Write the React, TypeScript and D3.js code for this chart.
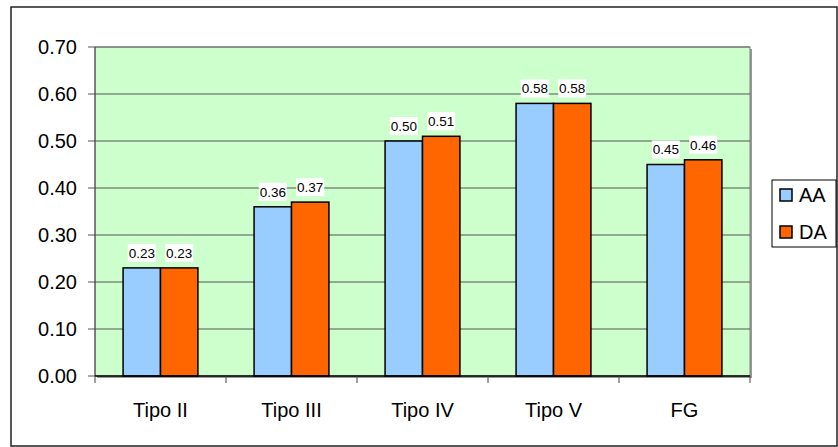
import React from "react";
import * as d3 from "d3";

const categories = ["Tipo II", "Tipo III", "Tipo IV", "Tipo V", "FG"];
const seriesNames = ["AA", "DA"];
const aaValues = [0.23, 0.36, 0.5, 0.58, 0.45];
const daValues = [0.23, 0.37, 0.51, 0.58, 0.46];
const yTicks = [0, 0.1, 0.2, 0.3, 0.4, 0.5, 0.6, 0.7];
const colors = ["#99CCFF", "#FF6600"];

const W = 838;
const H = 447;
const plot = { left: 95, right: 750, top: 47, bottom: 376 };
const font = "'Liberation Sans', Arial, sans-serif";

export default function App() {
  const x = d3.scaleBand<string>().domain(categories).range([plot.left, plot.right]).padding(0);
  const y = d3.scaleLinear().domain([0, 0.7]).range([plot.bottom, plot.top]);
  const bw = x.bandwidth() / 3.5;
  const series = [aaValues, daValues];
  const fmt = d3.format(".2f");

  return (
    <svg width={W} height={H} style={{ position: "absolute", left: 0, top: 0 }} fontFamily={font}>
      <rect x={0} y={0} width={W} height={H} fill="#fff" />
      <rect x={11} y={7} width={826} height={439} fill="#fff" stroke="#222" strokeWidth={1.5} />
      {/* plot area */}
      <rect x={plot.left + 2} y={plot.top + 2} width={plot.right - plot.left} height={plot.bottom - plot.top} fill="#999" />
      <rect x={plot.left} y={plot.top} width={plot.right - plot.left} height={plot.bottom - plot.top} fill="#CCFFCC" stroke="#808080" strokeWidth={1} />
      {yTicks.map((t) => (
        <g key={t}>
          {t > 0 && t < 0.7 && (
            <line x1={plot.left} x2={plot.right} y1={y(t)} y2={y(t)} stroke="#555" strokeWidth={1} />
          )}
          <line x1={plot.left - 7} x2={plot.left} y1={y(t)} y2={y(t)} stroke="#555" strokeWidth={1} />
          <text x={plot.left - 18} y={y(t)} dy="0.36em" textAnchor="end" fontSize={20} fill="#000">
            {fmt(t)}
          </text>
        </g>
      ))}
      <line x1={plot.left} x2={plot.right} y1={plot.top} y2={plot.top} stroke="#666" strokeWidth={1} />
      {/* bars */}
      {categories.map((c, i) => {
        const cx = (x(c) as number) + x.bandwidth() / 2;
        return series.map((vals, s) => {
          const bx = cx - bw + s * bw;
          const by = y(vals[i]);
          return (
            <rect key={c + s} x={bx} y={by} width={bw} height={plot.bottom - by} fill={colors[s]} stroke="#000" strokeWidth={1.5} />
          );
        });
      })}
      {/* axes */}
      <line x1={plot.left} x2={plot.left} y1={plot.top} y2={plot.bottom} stroke="#444" strokeWidth={1} />
      <line x1={plot.left} x2={plot.right} y1={plot.bottom} y2={plot.bottom} stroke="#000" strokeWidth={1.5} />
      {categories.map((c) => (
        <line key={"t" + c} x1={x(c) as number} x2={x(c) as number} y1={plot.bottom} y2={plot.bottom + 7} stroke="#444" />
      ))}
      <line x1={plot.right} x2={plot.right} y1={plot.bottom} y2={plot.bottom + 7} stroke="#444" />
      {categories.map((c) => (
        <text key={"l" + c} x={(x(c) as number) + x.bandwidth() / 2} y={417} textAnchor="middle" fontSize={20} fill="#000">
          {c}
        </text>
      ))}
      {/* data labels */}
      {categories.map((c, i) => {
        const cx = (x(c) as number) + x.bandwidth() / 2;
        return series.map((vals, s) => {
          const lx = cx - bw / 2 + s * bw;
          const ly = y(vals[i]) - 15;
          return (
            <g key={"d" + c + s}>
              <rect x={lx - 14} y={ly - 9} width={28} height={18} fill="#fff" />
              <text x={lx} y={ly} dy="0.36em" textAnchor="middle" fontSize={13.5} fill="#000">
                {fmt(vals[i])}
              </text>
            </g>
          );
        });
      })}
      {/* legend */}
      <rect x={772} y={180} width={64} height={67} fill="#fff" stroke="#000" strokeWidth={1} />
      {seriesNames.map((n, s) => (
        <g key={n}>
          <rect x={780} y={195 + s * 37 - 6} width={12} height={12} fill={colors[s]} stroke="#000" strokeWidth={1.5} />
          <text x={799} y={195 + s * 37} dy="0.36em" fontSize={20} fill="#000">
            {n}
          </text>
        </g>
      ))}
    </svg>
  );
}
